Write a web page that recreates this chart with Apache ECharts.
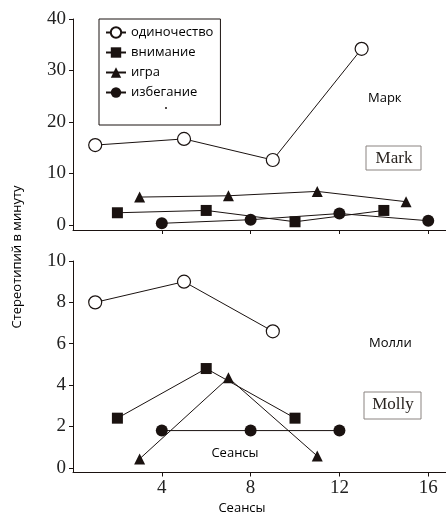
<!DOCTYPE html>
<html lang="ru">
<head>
    <meta charset="UTF-8">
    <title>Стереотипии в минуту: Марк и Молли</title>
    <script src="https://cdn.jsdelivr.net/npm/echarts@6/dist/echarts.min.js"></script>
    <style>
        html, body { margin: 0; padding: 0; background: #fff; }
        #chart { width: 446px; height: 517px; }
    </style>
</head>
<body>
    <div id="chart"></div>
    <script>
        // названия серий (легенда)
        const seriesNames = ['одиночество', 'внимание', 'игра', 'избегание'];

        // Марк (верхняя панель): [сеанс, стереотипий в минуту]
        const markAlone = [[1, 15.5], [5, 16.7], [9, 12.6], [13, 34.2]];
        const markAttention = [[2, 2.35], [6, 2.8], [10, 0.6], [14, 2.8]];
        const markPlay = [[3, 5.4], [7, 5.65], [11, 6.5], [15, 4.5]];
        const markEscape = [[4, 0.3], [8, 1.0], [12, 2.2], [16, 0.8]];

        // Молли (нижняя панель)
        const mollyAlone = [[1, 8.0], [5, 9.0], [9, 6.6]];
        const mollyAttention = [[2, 2.4], [6, 4.8], [10, 2.4]];
        const mollyPlay = [[3, 0.43], [7, 4.35], [11, 0.57]];
        const mollyEscape = [[4, 1.8], [8, 1.8], [12, 1.8]];

        // подписи делений
        const xTicks = [4, 8, 12, 16];
        const markYTicks = [0, 10, 20, 30, 40];
        const mollyYTicks = [0, 2, 4, 6, 8, 10];

        const ink = '#1a1210';
        const serif = '"Liberation Serif", "DejaVu Serif", serif';
        const sans = '"Open Sans", "Noto Sans", sans-serif';

        const chart = echarts.init(document.getElementById('chart'));

        // стиль маркеров для каждой серии
        const markerStyle = [
            { symbol: 'circle', symbolSize: 13, itemStyle: { color: '#fff', borderColor: ink, borderWidth: 1.2 } },
            { symbol: 'rect', symbolSize: 11, itemStyle: { color: ink } },
            { symbol: 'triangle', symbolSize: 11, itemStyle: { color: ink } },
            { symbol: 'circle', symbolSize: 12, itemStyle: { color: ink } }
        ];

        function makeSeries(name, data, idx) {
            const m = markerStyle[seriesNames.indexOf(name)];
            return {
                name: name,
                type: 'line',
                xAxisIndex: idx,
                yAxisIndex: idx,
                data: data,
                symbol: m.symbol,
                symbolSize: m.symbolSize,
                showAllSymbol: true,
                itemStyle: m.itemStyle,
                lineStyle: { color: ink, width: 1 },
                emphasis: { disabled: true },
                z: m.itemStyle.color === '#fff' ? 3 : 2
            };
        }

        function xAxisCfg(idx, showLabels) {
            return {
                type: 'value',
                gridIndex: idx,
                min: 0,
                max: 16.8,
                splitLine: { show: false },
                axisLine: { onZero: false, lineStyle: { color: ink, width: 1 } },
                axisTick: { customValues: xTicks, length: 4, lineStyle: { color: ink } },
                axisLabel: {
                    show: showLabels,
                    customValues: xTicks,
                    color: '#222',
                    fontFamily: serif,
                    fontSize: 19,
                    margin: 6
                }
            };
        }

        function yAxisCfg(idx, min, max, ticks) {
            return {
                type: 'value',
                gridIndex: idx,
                min: min,
                max: max,
                splitLine: { show: false },
                axisLine: { onZero: false, lineStyle: { color: ink, width: 1 } },
                axisTick: { customValues: ticks, length: 4, lineStyle: { color: ink } },
                axisLabel: {
                    customValues: ticks,
                    color: '#222',
                    fontFamily: serif,
                    fontSize: 19,
                    margin: 7
                }
            };
        }

        const option = {
            animation: false,
            backgroundColor: '#fff',
            grid: [
                { left: 73, top: 19, width: 373, height: 211 },
                { left: 73, top: 261, width: 373, height: 211.5 }
            ],
            xAxis: [xAxisCfg(0, false), xAxisCfg(1, true)],
            yAxis: [
                yAxisCfg(0, -1, 40, markYTicks),
                yAxisCfg(1, -0.227, 10, mollyYTicks)
            ],
            legend: {
                data: seriesNames,
                orient: 'vertical',
                left: 99,
                top: 19,
                itemWidth: 20,
                itemHeight: 13,
                itemGap: 7,
                padding: [7, 7, 26, 6],
                borderColor: ink,
                borderWidth: 1,
                backgroundColor: '#fff',
                selectedMode: false,
                textStyle: { color: '#000', fontFamily: sans, fontSize: 13 }
            },
            series: [
                makeSeries('одиночество', markAlone, 0),
                makeSeries('внимание', markAttention, 0),
                makeSeries('игра', markPlay, 0),
                makeSeries('избегание', markEscape, 0),
                makeSeries('одиночество', mollyAlone, 1),
                makeSeries('внимание', mollyAttention, 1),
                makeSeries('игра', mollyPlay, 1),
                makeSeries('избегание', mollyEscape, 1)
            ],
            graphic: [
                // подпись оси Y (общая для двух панелей)
                {
                    type: 'text', x: 17, y: 257, rotation: Math.PI / 2,
                    style: { text: 'Стереотипий в минуту', fill: '#000', font: '13px ' + sans, align: 'center', verticalAlign: 'middle' }
                },
                // подпись оси X
                {
                    type: 'text', x: 242, y: 508,
                    style: { text: 'Сеансы', fill: '#000', font: '13px ' + sans, align: 'center', verticalAlign: 'middle' }
                },
                {
                    type: 'text', x: 235, y: 453,
                    style: { text: 'Сеансы', fill: '#000', font: '13px ' + sans, align: 'center', verticalAlign: 'middle' }
                },
                {
                    type: 'text', x: 368, y: 98,
                    style: { text: 'Марк', fill: '#000', font: '13px ' + sans, align: 'left', verticalAlign: 'middle' }
                },
                {
                    type: 'text', x: 369, y: 343,
                    style: { text: 'Молли', fill: '#000', font: '13px ' + sans, align: 'left', verticalAlign: 'middle' }
                },
                // точка внизу легенды
                {
                    type: 'circle', z: 200, shape: { cx: 166, cy: 108, r: 1 },
                    style: { fill: ink }
                },
                {
                    type: 'rect', shape: { x: 366, y: 146, width: 55, height: 24 },
                    style: { fill: '#fff', stroke: '#8a8380', lineWidth: 1 }
                },
                {
                    type: 'text', x: 394, y: 158.5,
                    style: { text: 'Mark', fill: '#2a2420', font: '17px ' + serif, align: 'center', verticalAlign: 'middle' }
                },
                {
                    type: 'rect', shape: { x: 364, y: 392, width: 57, height: 27 },
                    style: { fill: '#fff', stroke: '#8a8380', lineWidth: 1 }
                },
                {
                    type: 'text', x: 393, y: 405,
                    style: { text: 'Molly', fill: '#2a2420', font: '17px ' + serif, align: 'center', verticalAlign: 'middle' }
                }
            ]
        };

        chart.setOption(option);
        window.addEventListener('resize', () => chart.resize());
    </script>
</body>
</html>
